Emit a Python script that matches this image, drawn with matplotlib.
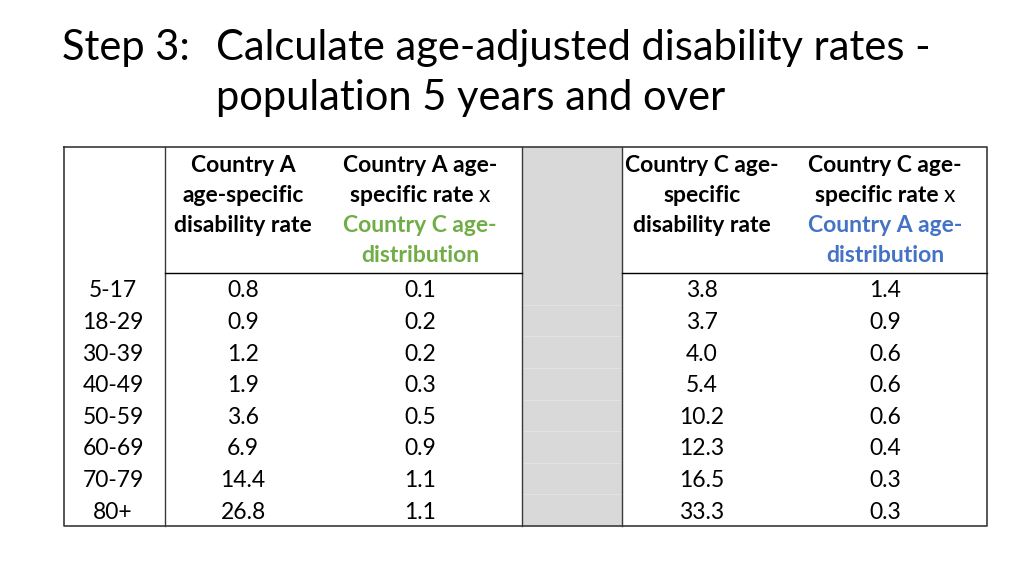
import matplotlib
matplotlib.use("Agg")
import matplotlib.pyplot as plt

# table data
age_groups = ['5-17', '18-29', '30-39', '40-49', '50-59', '60-69', '70-79', '80+']
rate_a = [0.8, 0.9, 1.2, 1.9, 3.6, 6.9, 14.4, 26.8]
a_times_c = [0.1, 0.2, 0.2, 0.3, 0.5, 0.9, 1.1, 1.1]
rate_c = [3.8, 3.7, 4.0, 5.4, 10.2, 12.3, 16.5, 33.3]
c_times_a = [1.4, 0.9, 0.6, 0.6, 0.6, 0.4, 0.3, 0.3]

GREEN = '#70ad47'
BLUE = '#4472c4'
FONT = 'Lato'

fig = plt.figure(figsize=(10.24, 5.76), dpi=100)
ax = fig.add_axes([0, 0, 1, 1])
ax.set_xlim(0, 1024)
ax.set_ylim(576, 0)
ax.axis('off')
renderer = fig.canvas.get_renderer()

# title
TS = 30
ax.text(62, 48, 'Step 3:', fontsize=TS, family=FONT, va='center', ha='left')
ax.text(216, 48, 'Calculate age-adjusted disability rates -', fontsize=TS, family=FONT,
        va='center', ha='left')
ax.text(216, 98, 'population 5 years and over', fontsize=TS, family=FONT,
        va='center', ha='left')

# geometry
left, right, top, bottom = 64, 987, 147, 526
c1, g0, g1 = 165, 522, 622
head_bot = 273
row_h = (bottom - head_bot) / len(age_groups)

# gray spacer column
ax.add_patch(plt.Rectangle((g0, top), g1 - g0, bottom - top, fc='#d9d9d9', ec='none', zorder=1))
for i in range(1, len(age_groups)):
    y = head_bot + i * row_h
    ax.plot([g0 + 1, g1 - 1], [y, y], color='#e2e2e2', lw=0.8, zorder=2)

lc = '#3a3a3a'
ax.plot([left, right, right, left, left], [top, top, bottom, bottom, top], color=lc, lw=1.2, zorder=3)
for x in (c1, g0, g1):
    ax.plot([x, x], [top, bottom], color=lc, lw=1.0, zorder=3)
ax.plot([c1, g0], [head_bot, head_bot], color='black', lw=1.0, zorder=3)
ax.plot([g1, right], [head_bot, head_bot], color='black', lw=1.0, zorder=3)

HS = 16.5


def mixed_line(xc, y, parts):
    widths = []
    for s, col, wt in parts:
        t = ax.text(0, 0, s, fontsize=HS, family=FONT, weight=wt)
        widths.append(t.get_window_extent(renderer).width)
        t.remove()
    x = xc - sum(widths) / 2
    for (s, col, wt), w in zip(parts, widths):
        ax.text(x, y, s, fontsize=HS, family=FONT, weight=wt, color=col,
                ha='left', va='center', zorder=4)
        x += w


head_y = [165, 195, 226, 256]
headers = [
    (243, [[('Country A', 'black', 'bold')],
           [('age-specific', 'black', 'bold')],
           [('disability rate', 'black', 'bold')]]),
    (420, [[('Country A age-', 'black', 'bold')],
           [('specific rate ', 'black', 'bold'), ('x', 'black', 'normal')],
           [('Country C age-', GREEN, 'bold')],
           [('distribution', GREEN, 'bold')]]),
    (702, [[('Country C age-', 'black', 'bold')],
           [('specific', 'black', 'bold')],
           [('disability rate', 'black', 'bold')]]),
    (885, [[('Country C age-', 'black', 'bold')],
           [('specific rate ', 'black', 'bold'), ('x', 'black', 'normal')],
           [('Country A age-', BLUE, 'bold')],
           [('distribution', BLUE, 'bold')]]),
]
for xc, lines in headers:
    for y, parts in zip(head_y, lines):
        mixed_line(xc, y, parts)

cols = [(113, age_groups), (243, [f'{v:.1f}' for v in rate_a]),
        (420, [f'{v:.1f}' for v in a_times_c]), (702, [f'{v:.1f}' for v in rate_c]),
        (885, [f'{v:.1f}' for v in c_times_a])]
for xc, vals in cols:
    for i, s in enumerate(vals):
        y = head_bot + (i + 0.5) * row_h + 2
        ax.text(xc, y, s, fontsize=HS, family=FONT, ha='center', va='center', zorder=4)

fig.savefig('out.png', dpi=100)
